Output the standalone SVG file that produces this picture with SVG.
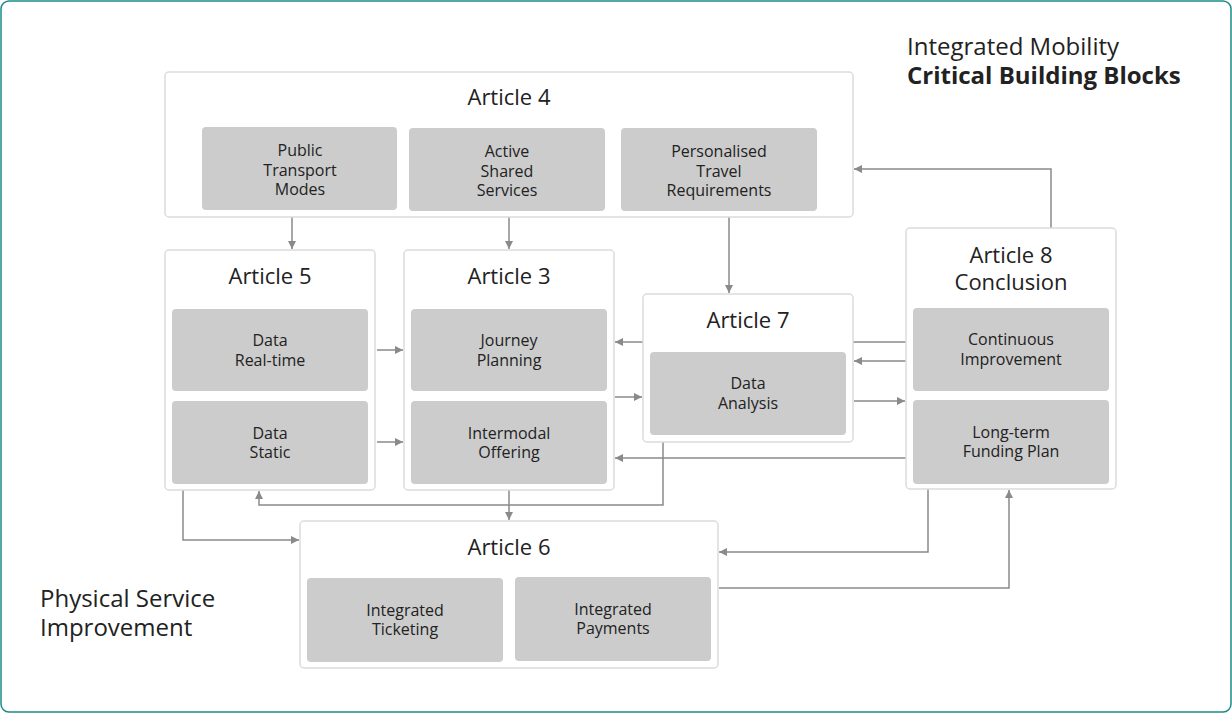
<svg xmlns="http://www.w3.org/2000/svg" width="1232" height="713" viewBox="0 0 1232 713">
<defs>
<marker id="ah" markerWidth="10" markerHeight="10" refX="9" refY="5" orient="auto" markerUnits="userSpaceOnUse">
<path d="M1,1 L9,5 L1,9 Z" fill="#8a8a8a"/>
</marker>
<style>
.frame{fill:#fff;stroke:#dcdcdc;stroke-width:1.5}
.sub{fill:#cccccc;stroke:none}
.t{font-family:"Open Sans","Noto Sans",sans-serif;fill:#222;text-anchor:middle}
.title{font-size:22px}
.lbl{font-size:16px}
.side{font-family:"Open Sans","Noto Sans",sans-serif;fill:#222;font-size:24px}
.c{fill:none;stroke:#8a8a8a;stroke-width:1.5;marker-end:url(#ah)}
</style>
</defs>
<rect x="1" y="1" width="1230" height="711" rx="8" fill="#fff" stroke="#1a8a8a" stroke-width="1.5"/>

<text class="side" x="907" y="55">Integrated Mobility</text>
<text class="side" x="907" y="84" font-weight="bold">Critical Building Blocks</text>
<text class="side" x="40" y="607">Physical Service</text>
<text class="side" x="40" y="636">Improvement</text>

<g id="connectors">
<path class="c" d="M292,217 V249"/>
<path class="c" d="M509,217 V249"/>
<path class="c" d="M729,217 V293"/>
<path class="c" d="M1051,228 V169 H854"/>
<path class="c" d="M377,350 H403"/>
<path class="c" d="M377,442 H403"/>
<path class="c" d="M615,397 H642"/>
<path class="c" d="M906,342 H615"/>
<path class="c" d="M906,361 H854"/>
<path class="c" d="M854,401 H905"/>
<path class="c" d="M906,458 H615"/>
<path class="c" d="M663,442 V505 H259 V491"/>
<path class="c" d="M509,490 V520"/>
<path class="c" d="M183,490 V540 H299"/>
<path class="c" d="M928,489 V552 H719"/>
<path class="c" d="M719,588 H1009 V490"/>
</g>

<g id="article4">
<rect class="frame" x="165" y="72" width="688" height="145" rx="4"/>
<text class="t title" x="509" y="105">Article 4</text>
<rect class="sub" x="202" y="127" width="195" height="83" rx="4"/>
<text class="t lbl" x="300" y="156">Public</text>
<text class="t lbl" x="300" y="176">Transport</text>
<text class="t lbl" x="300" y="195">Modes</text>
<rect class="sub" x="409" y="128" width="196" height="83" rx="4"/>
<text class="t lbl" x="507" y="157">Active</text>
<text class="t lbl" x="507" y="177">Shared</text>
<text class="t lbl" x="507" y="196">Services</text>
<rect class="sub" x="621" y="128" width="196" height="83" rx="4"/>
<text class="t lbl" x="719" y="157">Personalised</text>
<text class="t lbl" x="719" y="177">Travel</text>
<text class="t lbl" x="719" y="196">Requirements</text>
</g>

<g id="article5">
<rect class="frame" x="165" y="250" width="210" height="240" rx="4"/>
<text class="t title" x="270" y="284">Article 5</text>
<rect class="sub" x="172" y="309" width="196" height="82" rx="4"/>
<text class="t lbl" x="270" y="346">Data</text>
<text class="t lbl" x="270" y="366">Real-time</text>
<rect class="sub" x="172" y="401" width="196" height="83" rx="4"/>
<text class="t lbl" x="270" y="439">Data</text>
<text class="t lbl" x="270" y="458">Static</text>
</g>

<g id="article3">
<rect class="frame" x="404" y="250" width="210" height="240" rx="4"/>
<text class="t title" x="509" y="284">Article 3</text>
<rect class="sub" x="411" y="309" width="196" height="82" rx="4"/>
<text class="t lbl" x="509" y="346">Journey</text>
<text class="t lbl" x="509" y="366">Planning</text>
<rect class="sub" x="411" y="401" width="196" height="83" rx="4"/>
<text class="t lbl" x="509" y="439">Intermodal</text>
<text class="t lbl" x="509" y="458">Offering</text>
</g>

<g id="article7">
<rect class="frame" x="643" y="294" width="210" height="148" rx="4"/>
<text class="t title" x="748" y="328">Article 7</text>
<rect class="sub" x="650" y="352" width="196" height="83" rx="4"/>
<text class="t lbl" x="748" y="389">Data</text>
<text class="t lbl" x="748" y="409">Analysis</text>
</g>

<g id="article8">
<rect class="frame" x="906" y="228" width="210" height="261" rx="4"/>
<text class="t title" x="1011" y="263">Article 8</text>
<text class="t title" x="1011" y="290">Conclusion</text>
<rect class="sub" x="913" y="308" width="196" height="83" rx="4"/>
<text class="t lbl" x="1011" y="345">Continuous</text>
<text class="t lbl" x="1011" y="365">Improvement</text>
<rect class="sub" x="913" y="400" width="196" height="84" rx="4"/>
<text class="t lbl" x="1011" y="438">Long-term</text>
<text class="t lbl" x="1011" y="457">Funding Plan</text>
</g>

<g id="article6">
<rect class="frame" x="300" y="521" width="418" height="147" rx="4"/>
<text class="t title" x="509" y="555">Article 6</text>
<rect class="sub" x="307" y="578" width="196" height="84" rx="4"/>
<text class="t lbl" x="405" y="616">Integrated</text>
<text class="t lbl" x="405" y="635">Ticketing</text>
<rect class="sub" x="515" y="577" width="196" height="84" rx="4"/>
<text class="t lbl" x="613" y="615">Integrated</text>
<text class="t lbl" x="613" y="634">Payments</text>
</g>
</svg>
